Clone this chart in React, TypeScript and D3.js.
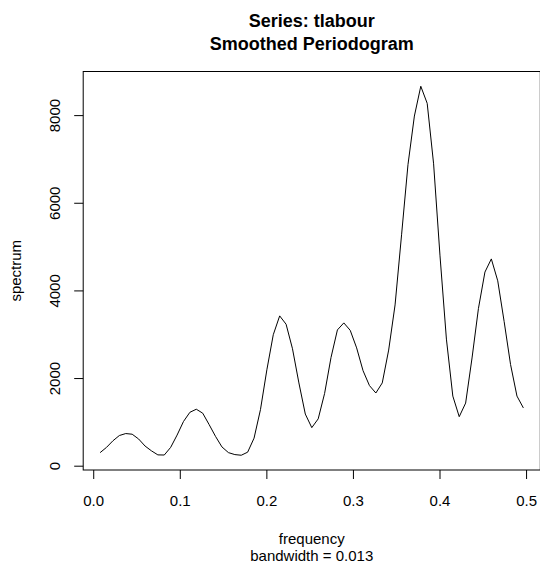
import React from 'react'
import * as d3 from 'd3'

// Fourier frequencies k/135, k = 1..67
const frequency = [
  0.0074, 0.0148, 0.0222, 0.0296, 0.037, 0.0444, 0.0519, 0.0593, 0.0667, 0.0741,
  0.0815, 0.0889, 0.0963, 0.1037, 0.1111, 0.1185, 0.1259, 0.1333, 0.1407, 0.1481,
  0.1556, 0.163, 0.1704, 0.1778, 0.1852, 0.1926, 0.2, 0.2074, 0.2148, 0.2222,
  0.2296, 0.237, 0.2444, 0.2519, 0.2593, 0.2667, 0.2741, 0.2815, 0.2889, 0.2963,
  0.3037, 0.3111, 0.3185, 0.3259, 0.3333, 0.3407, 0.3481, 0.3556, 0.363, 0.3704,
  0.3778, 0.3852, 0.3926, 0.4, 0.4074, 0.4148, 0.4222, 0.4296, 0.437, 0.4444,
  0.4519, 0.4593, 0.4667, 0.4741, 0.4815, 0.4889, 0.4963,
]

const spectrum = [
  310, 430, 580, 700, 745, 730, 620, 460, 350, 258,
  255, 430, 710, 1020, 1230, 1300, 1210, 950, 680, 440,
  310, 265, 250, 320, 640, 1290, 2200, 3000, 3430, 3240,
  2680, 1900, 1190, 880, 1080, 1660, 2480, 3110, 3270, 3100,
  2700, 2180, 1840, 1670, 1900, 2650, 3680, 5280, 6880, 7990,
  8670, 8280, 6900, 4800, 2900, 1600, 1130, 1440, 2470, 3600,
  4430, 4730, 4230, 3300, 2320, 1600, 1330,
]

const xTicks = [0, 0.1, 0.2, 0.3, 0.4, 0.5]
const yTicks = [0, 2000, 4000, 6000, 8000]

const titleLines = ['Series: tlabour', 'Smoothed Periodogram']
const xLabel = 'frequency'
const subLabel = 'bandwidth = 0.013'
const yLabel = 'spectrum'

const W = 540
const H = 565
const left = 83.2
const right = 540.3
const top = 71.5
const bottom = 470
const font = '"Liberation Sans", Arial, Helvetica, sans-serif'

// R style 4% extension of the data range
const pad = (ext: [number, number]) => {
  const d = (ext[1] - ext[0]) * 0.04
  return [ext[0] - d, ext[1] + d]
}

export default function App() {
  const x = d3.scaleLinear().domain(pad(d3.extent(frequency) as [number, number])).range([left, right])
  const y = d3.scaleLinear().domain(pad(d3.extent(spectrum) as [number, number])).range([bottom, top])

  const pts = frequency.map((f, i) => [f, spectrum[i]] as [number, number])
  const path = d3.line<[number, number]>()
    .x(d => x(d[0]))
    .y(d => y(d[1]))(pts)

  const cx = (left + right) / 2
  const cy = (top + bottom) / 2

  return (
    <svg width={W} height={H} style={{ position: 'absolute', left: 0, top: 0, background: '#fff' }} fontFamily={font}>
      <rect x={0} y={0} width={W} height={H} fill="#fff" />
      <text x={cx} y={26.5} textAnchor="middle" fontSize={18} fontWeight="bold">{titleLines[0]}</text>
      <text x={cx} y={49.5} textAnchor="middle" fontSize={18} fontWeight="bold">{titleLines[1]}</text>

      <path d={path || ''} fill="none" stroke="#000" strokeWidth={1} />

      <rect x={left} y={top} width={right - left} height={bottom - top} fill="none" stroke="#000" strokeWidth={1} />

      {xTicks.map(t => (
        <g key={'x' + t}>
          <line x1={x(t)} x2={x(t)} y1={bottom} y2={bottom + 9} stroke="#000" />
          <text x={x(t)} y={506} textAnchor="middle" fontSize={15}>{t.toFixed(1)}</text>
        </g>
      ))}
      {yTicks.map(t => (
        <g key={'y' + t}>
          <line x1={left - 9} x2={left} y1={y(t)} y2={y(t)} stroke="#000" />
          <text transform={`translate(60,${y(t)}) rotate(-90)`} textAnchor="middle" fontSize={15}>{t}</text>
        </g>
      ))}

      <text x={cx} y={544} textAnchor="middle" fontSize={15}>{xLabel}</text>
      <text x={cx} y={561} textAnchor="middle" fontSize={15}>{subLabel}</text>
      <text transform={`translate(20.5,${cy}) rotate(-90)`} textAnchor="middle" fontSize={15}>{yLabel}</text>
    </svg>
  )
}
